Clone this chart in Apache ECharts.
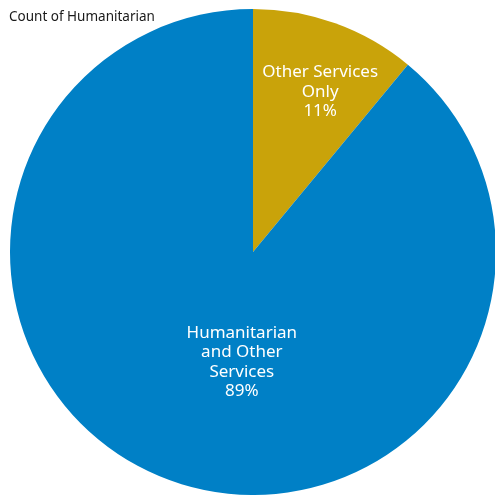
<!DOCTYPE html>
<html>
<head>
<meta charset="utf-8">
<script src="https://cdn.jsdelivr.net/npm/echarts@6/dist/echarts.min.js"></script>
<style>
  html, body { margin: 0; padding: 0; background: #ffffff; }
  #chart { width: 495px; height: 495px; }
</style>
</head>
<body>
<div id="chart"></div>
<script>
// Share of humanitarian responses by service type
const chartTitle = 'Count of Humanitarian';
const categories = ['Other Services Only', 'Humanitarian and Other Services'];
const labelLines = [['Other Services', 'Only'], ['Humanitarian', 'and Other', 'Services']];
const values = [11, 89];
const colors = ['#C9A30A', '#0080C6'];
const labelOffsets = [[25, -43], [31, -7]];

const total = values.reduce((a, b) => a + b, 0);

const chart = echarts.init(document.getElementById('chart'));
chart.setOption({
  animation: false,
  title: {
    text: chartTitle,
    left: 4,
    top: 5,
    textStyle: { fontFamily: 'Noto Sans', fontSize: 13.5, fontWeight: 'normal', color: '#1a1a1a' }
  },
  series: [{
    type: 'pie',
    center: [253, 252],
    radius: [0, 243],
    startAngle: 90,
    clockwise: true,
    silent: true,
    itemStyle: { borderWidth: 0 },
    label: {
      show: true,
      position: 'inner',
      color: '#ffffff',
      fontFamily: 'Noto Sans',
      fontSize: 17,
      lineHeight: 19.5,
      align: 'center'
    },
    labelLine: { show: false },
    data: categories.map((name, i) => ({
      name: name,
      value: values[i],
      itemStyle: { color: colors[i] },
      label: {
        offset: labelOffsets[i],
        formatter: () => labelLines[i].join('\n') + '\n' + Math.round(values[i] / total * 100) + '%'
      }
    }))
  }]
});
</script>
</body>
</html>
